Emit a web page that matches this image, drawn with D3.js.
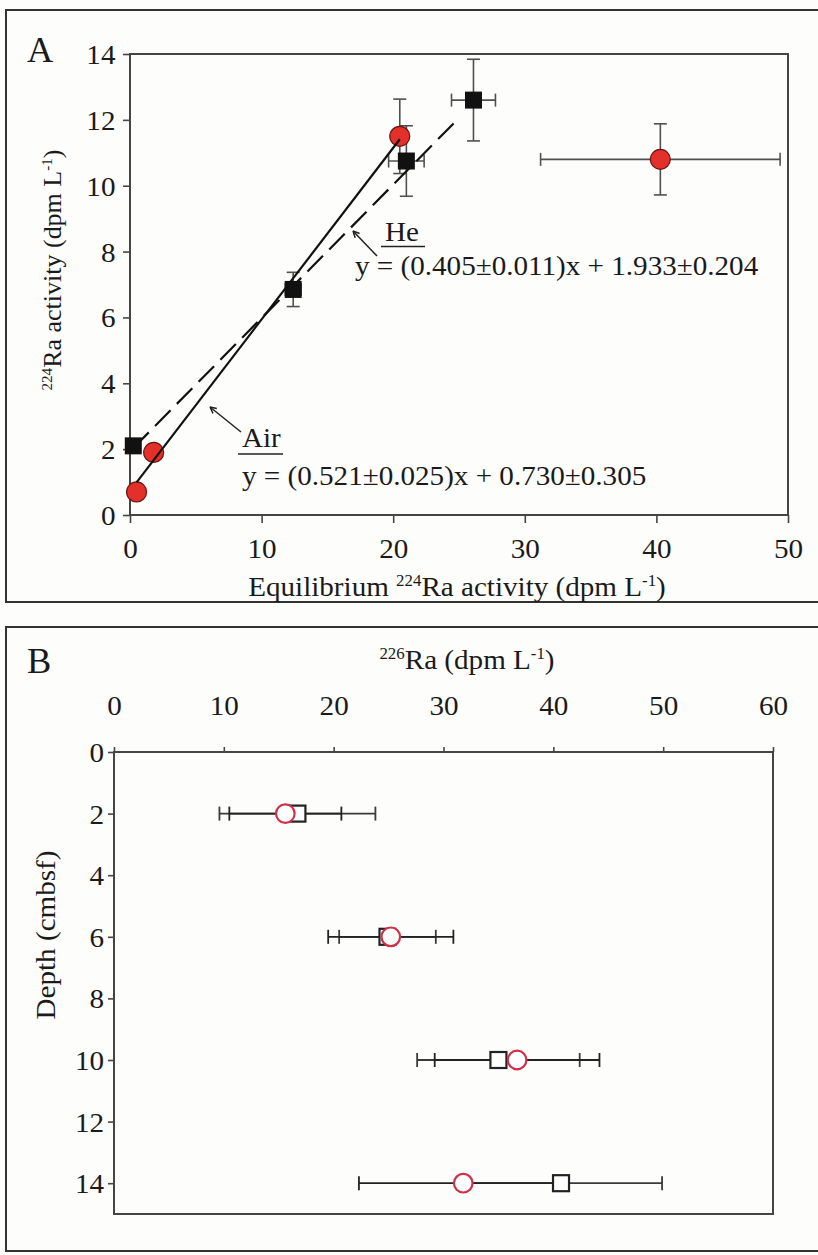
<!DOCTYPE html>
<html>
<head>
<meta charset="utf-8">
<script src="https://cdn.jsdelivr.net/npm/d3@7"></script>
<style>
  html, body { margin: 0; padding: 0; background: #fdfdfc; }
  svg { display: block; }
  text { font-family: "Liberation Serif", "Times New Roman", serif; fill: #1a1a1a; }
</style>
</head>
<body>
<svg id="fig" width="818" height="1255"></svg>
<script>
// ---- Panel A: measured vs equilibrium 224Ra ----
const airEq      = [0.5, 1.8, 20.5, 40.3];
const airAct     = [0.7, 1.9, 11.5, 10.8];
const airEqErr   = [0, 0, 0, 9.1];
const airActErr  = [0, 0, 1.13, 1.08];

const heEq       = [0.25, 12.4, 21.0, 26.1];
const heAct      = [2.1, 6.85, 10.75, 12.6];
const heEqErr    = [0, 0.6, 1.35, 1.67];
const heActErr   = [0, 0.52, 1.07, 1.24];

const airFit = { slope: 0.521, intercept: 0.730, from: 0.5, to: 20.5 };
const heFit  = { slope: 0.405, intercept: 1.933, from: 0.25, to: 24.8 };

const xTicksA = [0, 10, 20, 30, 40, 50];
const yTicksA = [0, 2, 4, 6, 8, 10, 12, 14];

// ---- Panel B: 226Ra depth profile ----
const depths     = [2, 6, 10, 14];
const sqRa       = [16.7, 24.9, 35.0, 40.7];
const sqRaErr    = [7.1, 4.4, 7.4, 9.2];
const circRa     = [15.6, 25.2, 36.7, 31.8];
const circRaErr  = [5.1, 5.7, 7.5, 9.5];

const xTicksB = [0, 10, 20, 30, 40, 50, 60];
const yTicksB = [0, 2, 4, 6, 8, 10, 12, 14];

const FS = 28;      // base font size
const SX = 1.04;    // horizontal text stretch
const AXIS = "#454545";

const svg = d3.select("#fig");

// text with optional superscript segments: parts = [[str, isSup], ...]
function rich(g, x, y, parts, opt = {}) {
  const size = opt.size || FS;
  const t = g.append("text")
    .attr("transform", `translate(${x},${y})` + (opt.rotate ? ` rotate(${opt.rotate})` : "") + ` scale(${SX},1)`)
    .attr("text-anchor", opt.anchor || "start")
    .attr("font-size", size);
  parts.forEach(([s, sup]) => {
    const ts = t.append("tspan").text(s);
    if (sup) ts.attr("font-size", size * 0.58).attr("baseline-shift", size * 0.36);
  });
  return t;
}

function styleTicks(ax) {
  ax.select(".domain").remove();
  ax.selectAll(".tick line").attr("stroke", AXIS).attr("stroke-width", 1.6);
  ax.selectAll(".tick text").attr("font-size", FS).attr("fill", "#1a1a1a")
    .attr("font-family", "Liberation Serif").attr("transform", `scale(${SX},1)`);
}

// outer panel frames
svg.append("rect").attr("x", 6).attr("y", 10).attr("width", 816).attr("height", 592)
  .attr("fill", "none").attr("stroke", "#333").attr("stroke-width", 2);
svg.append("rect").attr("x", 6).attr("y", 627).attr("width", 816).attr("height", 624)
  .attr("fill", "none").attr("stroke", "#333").attr("stroke-width", 2);

// ================= Panel A =================
const xA = d3.scaleLinear().domain([0, 50]).range([130, 788]);
const yA = d3.scaleLinear().domain([0, 14]).range([515, 54]);
const gA = svg.append("g");

gA.append("rect").attr("x", xA(0)).attr("y", yA(14))
  .attr("width", xA(50) - xA(0)).attr("height", yA(0) - yA(14))
  .attr("fill", "none").attr("stroke", AXIS).attr("stroke-width", 2);

const axBA = gA.append("g").attr("transform", `translate(0,${yA(0)})`)
  .call(d3.axisBottom(xA).tickValues(xTicksA).tickFormat(d3.format("d")).tickSize(8).tickSizeOuter(0));
styleTicks(axBA);
axBA.selectAll(".tick text").attr("y", 43).attr("dy", 0);

const axLA = gA.append("g").attr("transform", `translate(${xA(0)},0)`)
  .call(d3.axisLeft(yA).tickValues(yTicksA).tickFormat(d3.format("d")).tickSize(7).tickSizeOuter(0));
styleTicks(axLA);
axLA.selectAll(".tick text").attr("x", -14).attr("dy", "0.34em");

// error bars
function errBarsA(xs, ys, xe, ye) {
  const cap = 6.5;
  const g = gA.append("g").attr("stroke", "#505050").attr("stroke-width", 1.6).attr("fill", "none");
  xs.forEach((x, i) => {
    const cx = xA(x), cy = yA(ys[i]);
    if (ye[i] > 0) {
      const t = yA(ys[i] + ye[i]), b = yA(ys[i] - ye[i]);
      g.append("line").attr("x1", cx).attr("x2", cx).attr("y1", t).attr("y2", b);
      g.append("line").attr("x1", cx - cap).attr("x2", cx + cap).attr("y1", t).attr("y2", t);
      g.append("line").attr("x1", cx - cap).attr("x2", cx + cap).attr("y1", b).attr("y2", b);
    }
    if (xe[i] > 0) {
      const l = xA(x - xe[i]), r = xA(x + xe[i]);
      g.append("line").attr("x1", l).attr("x2", r).attr("y1", cy).attr("y2", cy);
      g.append("line").attr("x1", l).attr("x2", l).attr("y1", cy - cap).attr("y2", cy + cap);
      g.append("line").attr("x1", r).attr("x2", r).attr("y1", cy - cap).attr("y2", cy + cap);
    }
  });
}
errBarsA(heEq, heAct, heEqErr, heActErr);
errBarsA(airEq, airAct, airEqErr, airActErr);

// markers
gA.append("g").selectAll("rect").data(heEq).join("rect")
  .attr("x", (d) => xA(d) - 8.5).attr("y", (d, i) => yA(heAct[i]) - 8.5)
  .attr("width", 17).attr("height", 17).attr("fill", "#111");
gA.append("g").selectAll("circle").data(airEq).join("circle")
  .attr("cx", (d) => xA(d)).attr("cy", (d, i) => yA(airAct[i])).attr("r", 10)
  .attr("fill", "#e3302a").attr("stroke", "#6a1512").attr("stroke-width", 1.2);

// regression lines
function fitLine(f, dash) {
  gA.append("line")
    .attr("x1", xA(f.from)).attr("y1", yA(f.slope * f.from + f.intercept))
    .attr("x2", xA(f.to)).attr("y2", yA(f.slope * f.to + f.intercept))
    .attr("stroke", "#111").attr("stroke-width", 2.2)
    .attr("stroke-dasharray", dash || null);
}
fitLine(airFit);
fitLine(heFit, "22,9");

// leader arrows and labels
function leader(x1, y1, x2, y2) {
  gA.append("line").attr("x1", x1).attr("y1", y1).attr("x2", x2).attr("y2", y2)
    .attr("stroke", "#222").attr("stroke-width", 1.5);
  const a = Math.atan2(y1 - y2, x1 - x2), L = 7, w = 0.45;
  gA.append("path")
    .attr("d", `M${x1},${y1}L${x1 - L * Math.cos(a - w)},${y1 - L * Math.sin(a - w)}M${x1},${y1}L${x1 - L * Math.cos(a + w)},${y1 - L * Math.sin(a + w)}`)
    .attr("stroke", "#222").attr("stroke-width", 1.5).attr("fill", "none");
}
leader(353, 231, 377, 256);
leader(210, 407, 241, 432);

rich(gA, 385, 241, [["He"]]);
gA.append("line").attr("x1", 381).attr("x2", 425).attr("y1", 246.5).attr("y2", 246.5)
  .attr("stroke", "#222").attr("stroke-width", 1.5);
rich(gA, 355, 275, [[`y = (${heFit.slope.toFixed(3)}±0.011)x + ${heFit.intercept.toFixed(3)}±0.204`]]);

rich(gA, 242, 447, [["Air"]]);
gA.append("line").attr("x1", 238).attr("x2", 283).attr("y1", 454).attr("y2", 454)
  .attr("stroke", "#222").attr("stroke-width", 1.5);
rich(gA, 242, 485, [[`y = (${airFit.slope.toFixed(3)}±0.025)x + ${airFit.intercept.toFixed(3)}±0.305`]]);

// axis titles
rich(gA, 457, 596, [["Equilibrium "], ["224", true], ["Ra activity (dpm L"], ["-1", true], [")"]], { anchor: "middle" });
rich(gA, 61, 270, [["224", true], ["Ra activity (dpm L"], ["-1", true], [")"]], { anchor: "middle", rotate: -90, size: 25 });
rich(gA, 27, 62, [["A"]], { size: 35 });

// ================= Panel B =================
const xB = d3.scaleLinear().domain([0, 60]).range([114, 773]);
const yB = d3.scaleLinear().domain([0, 15]).range([752, 1214]);
const gB = svg.append("g");

gB.append("rect").attr("x", xB(0)).attr("y", yB(0))
  .attr("width", xB(60) - xB(0)).attr("height", yB(15) - yB(0))
  .attr("fill", "none").attr("stroke", AXIS).attr("stroke-width", 2);

const axTB = gB.append("g").attr("transform", `translate(0,${yB(0)})`)
  .call(d3.axisTop(xB).tickValues(xTicksB).tickFormat(d3.format("d")).tickSize(5).tickSizeOuter(0));
styleTicks(axTB);
axTB.selectAll(".tick text").attr("y", -37).attr("dy", 0);

const axLB = gB.append("g").attr("transform", `translate(${xB(0)},0)`)
  .call(d3.axisLeft(yB).tickValues(yTicksB).tickFormat(d3.format("d")).tickSize(6).tickSizeOuter(0));
styleTicks(axLB);
axLB.selectAll(".tick text").attr("x", -9.5).attr("dy", "0.34em");

function hBars(vals, errs, color) {
  const cap = 7;
  const g = gB.append("g").attr("stroke", color).attr("stroke-width", 1.8);
  vals.forEach((v, i) => {
    const y = yB(depths[i]), l = xB(v - errs[i]), r = xB(v + errs[i]);
    g.append("line").attr("x1", l).attr("x2", r).attr("y1", y).attr("y2", y);
    g.append("line").attr("x1", l).attr("x2", l).attr("y1", y - cap).attr("y2", y + cap);
    g.append("line").attr("x1", r).attr("x2", r).attr("y1", y - cap).attr("y2", y + cap);
  });
}
hBars(sqRa, sqRaErr, "#3a3a3a");
hBars(circRa, circRaErr, "#222");

gB.append("g").selectAll("rect").data(sqRa).join("rect")
  .attr("x", (d) => xB(d) - 8).attr("y", (d, i) => yB(depths[i]) - 8)
  .attr("width", 16).attr("height", 16)
  .attr("fill", "#fff").attr("stroke", "#222").attr("stroke-width", 2.2);
gB.append("g").selectAll("circle").data(circRa).join("circle")
  .attr("cx", (d) => xB(d)).attr("cy", (d, i) => yB(depths[i])).attr("r", 9.3)
  .attr("fill", "#fff").attr("stroke", "#cf2f48").attr("stroke-width", 2.2);

rich(gB, 467, 669, [["226", true], ["Ra (dpm L"], ["-1", true], [")"]], { anchor: "middle" });
rich(gB, 55, 935, [["Depth (cmbsf)"]], { anchor: "middle", rotate: -90 });
rich(gB, 27, 673, [["B"]], { size: 35 });
</script>
</body>
</html>
